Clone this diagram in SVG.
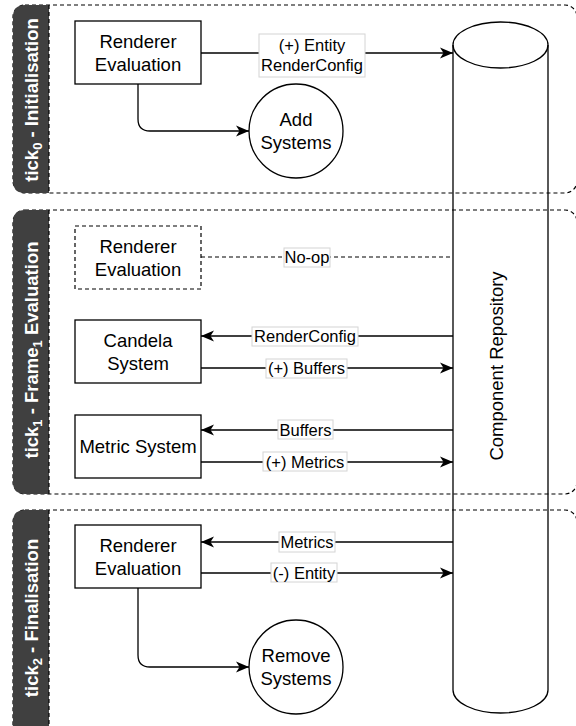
<svg xmlns="http://www.w3.org/2000/svg" width="576" height="726" viewBox="0 0 576 726">
<defs>
<style>
.frame{fill:none;stroke:#000;stroke-width:1.2;stroke-dasharray:4 3}
.tab{fill:#404040;stroke:none}
.tabedge{stroke:#000;stroke-width:1.2;stroke-dasharray:4 3;fill:none}
.tabtxt{font-family:"Liberation Sans",Arial,sans-serif;font-weight:bold;font-size:18.5px;fill:#fff;text-anchor:middle}
.box{fill:#fff;stroke:#000;stroke-width:1.3}
.dbox{fill:#fff;stroke:#000;stroke-width:1.2;stroke-dasharray:4 3}
.ntxt{font-family:"Liberation Sans",Arial,sans-serif;font-size:18.5px;fill:#000;text-anchor:middle}
.ltxt{font-family:"Liberation Sans",Arial,sans-serif;font-size:16.5px;fill:#000;text-anchor:middle}
.lbl{fill:#fff;stroke:#d4d4d4;stroke-width:1}
.edge{fill:none;stroke:#000;stroke-width:1.3}
.dedge{fill:none;stroke:#000;stroke-width:1.2;stroke-dasharray:4 3}
</style>
<marker id="arr" markerUnits="userSpaceOnUse" markerWidth="14" markerHeight="12" refX="13" refY="6" orient="auto">
<path d="M0,0.5 L13,6 L0,11.5 L3.5,6 Z" fill="#000"/>
</marker>
</defs>

<g id="sections">
<rect class="frame" x="13" y="5" width="564" height="188" rx="12"/>
<path class="tab" d="M49,5 L25,5 Q13,5 13,17 L13,181 Q13,193 25,193 L49,193 Z"/>
<line class="tabedge" x1="49" y1="5" x2="49" y2="193"/>
<text class="tabtxt" transform="translate(31,100) rotate(-90)" x="0" y="6.5">tick<tspan font-size="13" dy="4">0</tspan><tspan dy="-4"> - Initialisation</tspan></text>

<rect class="frame" x="13" y="210" width="564" height="284" rx="12"/>
<path class="tab" d="M49,210 L25,210 Q13,210 13,222 L13,482 Q13,494 25,494 L49,494 Z"/>
<line class="tabedge" x1="49" y1="210" x2="49" y2="494"/>
<text class="tabtxt" transform="translate(31,350) rotate(-90)" x="0" y="6.5">tick<tspan font-size="13" dy="4">1</tspan><tspan dy="-4"> - Frame</tspan><tspan font-size="13" dy="4">1</tspan><tspan dy="-4"> Evaluation</tspan></text>

<rect class="frame" x="13" y="510" width="564" height="240" rx="12"/>
<path class="tab" d="M49,510 L25,510 Q13,510 13,522 L13,750 L49,750 Z"/>
<line class="tabedge" x1="49" y1="510" x2="49" y2="750"/>
<text class="tabtxt" transform="translate(31,618) rotate(-90)" x="0" y="6.5">tick<tspan font-size="13" dy="4">2</tspan><tspan dy="-4"> - Finalisation</tspan></text>
</g>

<g id="repository">
<path class="edge" d="M453,45 A47.5,23 0 0 1 548,45 L548,690 A47.5,23 0 0 1 453,690 Z"/>
<path class="edge" d="M453,45 A47.5,23 0 0 0 548,45"/>
<text class="ntxt" transform="translate(497,366) rotate(-90)" x="0" y="6">Component Repository</text>
</g>

<g id="connectors">
<line class="edge" x1="201" y1="53" x2="453" y2="53" marker-end="url(#arr)"/>
<path class="edge" d="M138,84 L138,119 Q138,131 150,131 L249,131" marker-end="url(#arr)"/>
<line class="dedge" x1="201" y1="257" x2="453" y2="257"/>
<line class="edge" x1="453" y1="336" x2="201" y2="336" marker-end="url(#arr)"/>
<line class="edge" x1="201" y1="368" x2="453" y2="368" marker-end="url(#arr)"/>
<line class="edge" x1="453" y1="430" x2="201" y2="430" marker-end="url(#arr)"/>
<line class="edge" x1="201" y1="462" x2="453" y2="462" marker-end="url(#arr)"/>
<line class="edge" x1="453" y1="542" x2="201" y2="542" marker-end="url(#arr)"/>
<line class="edge" x1="201" y1="573" x2="453" y2="573" marker-end="url(#arr)"/>
<path class="edge" d="M138,588 L138,655 Q138,667 150,667 L249,667" marker-end="url(#arr)"/>

<rect class="lbl" x="259" y="34" width="106" height="43"/>
<text class="ltxt" x="312" y="51">(+) Entity</text>
<text class="ltxt" x="312" y="71">RenderConfig</text>
<rect class="lbl" x="284" y="248" width="46" height="19"/>
<text class="ltxt" x="307" y="263">No-op</text>
<rect class="lbl" x="252" y="327" width="106" height="19"/>
<text class="ltxt" x="305" y="342">RenderConfig</text>
<rect class="lbl" x="266" y="359" width="81" height="19"/>
<text class="ltxt" x="306.5" y="374">(+) Buffers</text>
<rect class="lbl" x="278" y="420" width="55" height="19"/>
<text class="ltxt" x="305.5" y="435.5">Buffers</text>
<rect class="lbl" x="263" y="452" width="84" height="19"/>
<text class="ltxt" x="305" y="467.5">(+) Metrics</text>
<rect class="lbl" x="279" y="532" width="56" height="20"/>
<text class="ltxt" x="307" y="548">Metrics</text>
<rect class="lbl" x="271" y="563" width="66" height="19"/>
<text class="ltxt" x="304" y="578.5">(-) Entity</text>
</g>

<g id="renderer-init">
<rect class="box" x="75" y="21" width="126" height="63"/>
<text class="ntxt" x="138" y="48">Renderer</text>
<text class="ntxt" x="138" y="71">Evaluation</text>
</g>
<g id="add-systems">
<circle class="box" cx="296" cy="131" r="47"/>
<text class="ntxt" x="296" y="126">Add</text>
<text class="ntxt" x="296" y="149">Systems</text>
</g>
<g id="renderer-frame">
<rect class="dbox" x="75" y="226" width="126" height="63"/>
<text class="ntxt" x="138" y="252.5">Renderer</text>
<text class="ntxt" x="138" y="275.5">Evaluation</text>
</g>
<g id="candela-system">
<rect class="box" x="75" y="320" width="126" height="63"/>
<text class="ntxt" x="138" y="346.5">Candela</text>
<text class="ntxt" x="138" y="369.5">System</text>
</g>
<g id="metric-system">
<rect class="box" x="75" y="415" width="126" height="63"/>
<text class="ntxt" x="138" y="452.5">Metric System</text>
</g>
<g id="renderer-final">
<rect class="box" x="75" y="525" width="126" height="63"/>
<text class="ntxt" x="138" y="551.5">Renderer</text>
<text class="ntxt" x="138" y="574.5">Evaluation</text>
</g>
<g id="remove-systems">
<circle class="box" cx="296" cy="667" r="47"/>
<text class="ntxt" x="296" y="662">Remove</text>
<text class="ntxt" x="296" y="685">Systems</text>
</g>
</svg>
